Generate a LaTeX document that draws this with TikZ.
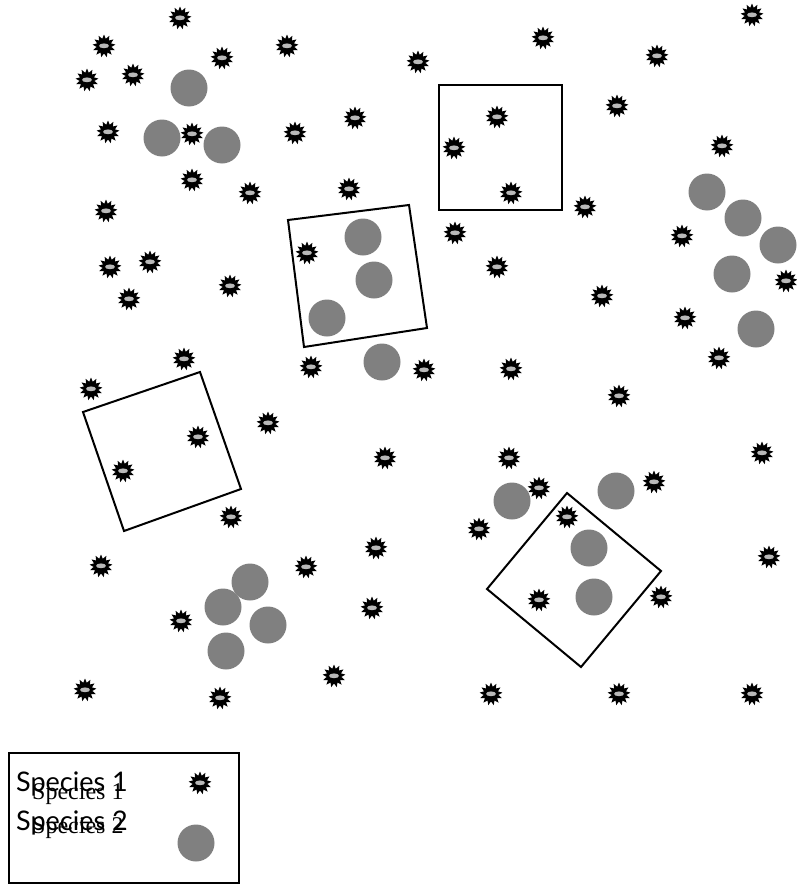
\documentclass[tikz,border=0pt]{standalone}
\usepackage{fontspec}
\newfontfamily\latofont{Lato}
\newfontfamily\tmsfont{Liberation Serif}
\usetikzlibrary{shapes.geometric}
\tikzset{
  spone/.style={star, star points=13, star point ratio=1.55, minimum size=23pt, inner sep=0pt,
    fill=black, draw=none,
    path picture={\fill[gray!55] (path picture bounding box.center) ellipse (5pt and 2.4pt);}},
  sptwo/.style={circle, minimum size=37pt, inner sep=0pt, fill=gray, draw=none},
  quad/.style={draw=black, line width=2pt, line join=miter},
  legtxtA/.style={anchor=base west, inner sep=0pt, font=\latofont\fontsize{27}{31}\selectfont},
  legtxtB/.style={anchor=base west, inner sep=0pt, font=\tmsfont\fontsize{24}{28}\selectfont}
}
\begin{document}
\begin{tikzpicture}[x=1pt,y=-1pt]
\useasboundingbox (0,0) rectangle (797,886);
% species 1 (stars)
\foreach \px/\py [count=\i] in {180/18, 752/15, 104/46, 543/38, 222/58, 287/46, 418/62, 657/56, 87/80, 133/75,
  108/132, 192/134, 295/133, 355/118, 497/117, 617/106, 454/148, 722/146, 192/180, 250/193,
  349/189, 511/193, 585/207, 106/211, 455/233, 682/236, 110/267, 150/262, 230/286, 307/253,
  497/267, 602/296, 786/281, 129/299, 685/318, 184/359, 311/367, 424/370, 511/369, 719/358,
  91/389, 619/396, 198/437, 268/423, 123/471, 385/458, 509/458, 762/453, 539/488, 654/482,
  231/517, 567/517, 479/529, 376/548, 101/566, 306/567, 769/557, 181/621, 372/608, 539/600,
  661/597, 334/676, 85/690, 220/698, 491/694, 619/694, 752/694}
  \node[spone] (s\i) at (\px,\py) {};
% species 2 (circles)
\foreach \px/\py [count=\i] in {189/88, 162/138, 222/145, 363/237, 374/280, 327/318, 382/362,
  707/192, 743/218, 778/245, 732/274, 756/329, 512/501, 616/491, 589/548, 594/597,
  250/582, 223/607, 268/625, 226/651}
  \node[sptwo] (c\i) at (\px,\py) {};
% quadrats
\draw[quad] (439,85) rectangle (562,210);
\draw[quad] (288,220) -- (409,205) -- (427,328) -- (304,347) -- cycle;
\draw[quad] (83,412) -- (200,372) -- (241,489) -- (124,531) -- cycle;
\draw[quad] (567,493) -- (661,571) -- (581,667) -- (487,589) -- cycle;
% legend
\draw[quad] (9,753) rectangle (239,883);
\node[spone] (legs) at (200,783) {};
\node[sptwo] (legc) at (196,843) {};
\node[legtxtA] (la1) at (16,791) {Species 1};
\node[legtxtB] (lb1) at (32,799) {Species 1};
\node[legtxtA] (la2) at (16,830) {Species 2};
\node[legtxtB] (lb2) at (32,833) {Species 2};
\end{tikzpicture}
\end{document}
